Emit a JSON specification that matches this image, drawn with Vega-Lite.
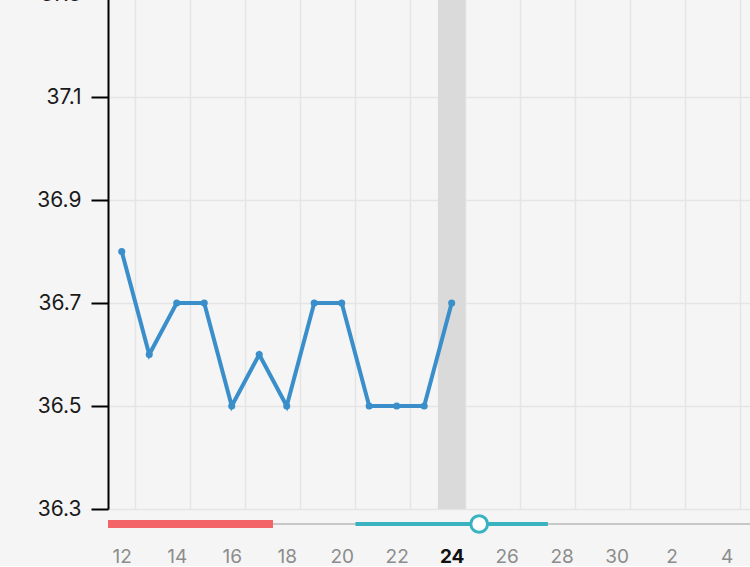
{
  "$schema": "https://vega.github.io/schema/vega-lite/v6.json",
  "padding": {"left": 0, "top": -17, "right": 0, "bottom": 0},
  "background": "#f5f5f5",
  "config": {
    "view": {"stroke": null},
    "font": "Inter",
    "concat": {"spacing": 0}
  },
  "spacing": 0,
  "bounds": "flush",
  "datasets": {
    "temps": [
      {"day": 12, "temp": 36.8},
      {"day": 13, "temp": 36.6},
      {"day": 14, "temp": 36.7},
      {"day": 15, "temp": 36.7},
      {"day": 16, "temp": 36.5},
      {"day": 17, "temp": 36.6},
      {"day": 18, "temp": 36.5},
      {"day": 19, "temp": 36.7},
      {"day": 20, "temp": 36.7},
      {"day": 21, "temp": 36.5},
      {"day": 22, "temp": 36.5},
      {"day": 23, "temp": 36.5},
      {"day": 24, "temp": 36.7}
    ]
  },
  "vconcat": [
    {
      "width": 642,
      "height": 515,
      "layer": [
        {
          "data": {"values": [{"start": 23.5, "end": 24.5}]},
          "mark": {"type": "rect", "color": "#dadada"},
          "encoding": {
            "x": {"field": "start", "type": "quantitative", "scale": {"domain": [11.5, 34.85], "nice": false, "zero": false},
              "axis": {"values": [12.5,13.5,14.5,15.5,16.5,17.5,18.5,19.5,20.5,21.5,22.5,23.5,24.5,25.5,26.5,27.5,28.5,29.5,30.5,31.5,32.5,33.5,34.5],
                "grid": true, "gridColor": "#e5e5e5", "gridWidth": 1.5, "labels": false, "ticks": false, "domain": false, "title": null,
                "labelPadding": 0, "minExtent": 0, "maxExtent": 0, "offset": 0}},
            "x2": {"field": "end"}
          }
        },
        {
          "data": {"name": "temps"},
          "mark": {"type": "line", "color": "#3a8fca", "strokeWidth": 4, "point": {"filled": true, "size": 50, "color": "#3a8fca"}},
          "encoding": {
            "x": {"field": "day", "type": "quantitative"},
            "y": {"field": "temp", "type": "quantitative",
              "scale": {"domain": [36.3, 37.3], "nice": false, "zero": false},
              "axis": {"values": [36.3, 36.5, 36.7, 36.9, 37.1, 37.3], "format": ".1f", "title": null,
                "grid": true, "gridColor": "#e5e5e5", "gridWidth": 1.5,
                "domainColor": "#000000", "domainWidth": 2, "tickColor": "#000000", "tickWidth": 2, "tickSize": 17,
                "labelColor": "#1a1a1a", "labelFontSize": 21, "labelPadding": 10, "labelFont": "Inter",
                "minExtent": 108, "maxExtent": 108}}
          }
        }
      ]
    },
    {
      "width": 642,
      "height": 30,
      "layer": [
        {
          "data": {"values": [{"start": 11.5, "end": 34.85}]},
          "mark": {"type": "rule", "color": "#c8c8c8", "strokeWidth": 2},
          "encoding": {
            "x": {"field": "start", "type": "quantitative", "scale": {"domain": [11.5, 34.85], "nice": false, "zero": false},
              "axis": {"values": [12,14,16,18,20,22,24,26,28,30,32,34],
                "labelExpr": "datum.value > 30 ? datum.value - 30 : datum.value",
                "grid": false, "ticks": false, "domain": false, "title": null,
                "labelFontSize": 19, "labelPadding": 8, "labelFont": "Inter",
                "labelColor": {"condition": {"test": "datum.value == 24", "value": "#111111"}, "value": "#8c8c8c"},
                "labelFontWeight": {"condition": {"test": "datum.value == 24", "value": "bold"}, "value": "normal"}}},
            "x2": {"field": "end"},
            "y": {"datum": 0.5, "type": "quantitative", "scale": {"domain": [0, 1]}, "axis": {"minExtent": 108, "maxExtent": 108, "labels": false, "ticks": false, "domain": false, "grid": false, "title": null}}
          }
        },
        {
          "data": {"values": [{"start": 11.5, "end": 17.5, "phase": "period"}]},
          "mark": {"type": "rule", "color": "#f26467", "strokeWidth": 8, "strokeCap": "butt"},
          "encoding": {
            "x": {"field": "start", "type": "quantitative"},
            "x2": {"field": "end"},
            "y": {"datum": 0.5, "type": "quantitative"}
          }
        },
        {
          "data": {"values": [{"start": 20.5, "end": 27.5, "phase": "fertile"}]},
          "mark": {"type": "rule", "color": "#3ab3c1", "strokeWidth": 4, "strokeCap": "butt"},
          "encoding": {
            "x": {"field": "start", "type": "quantitative"},
            "x2": {"field": "end"},
            "y": {"datum": 0.5, "type": "quantitative"}
          }
        },
        {
          "data": {"values": [{"day": 25, "phase": "ovulation"}]},
          "mark": {"type": "point", "shape": "circle", "filled": false, "fill": "#ffffff", "fillOpacity": 1, "stroke": "#3ab3c1", "strokeWidth": 3, "size": 280, "opacity": 1},
          "encoding": {
            "x": {"field": "day", "type": "quantitative"},
            "y": {"datum": 0.5, "type": "quantitative"}
          }
        }
      ]
    }
  ]
}
